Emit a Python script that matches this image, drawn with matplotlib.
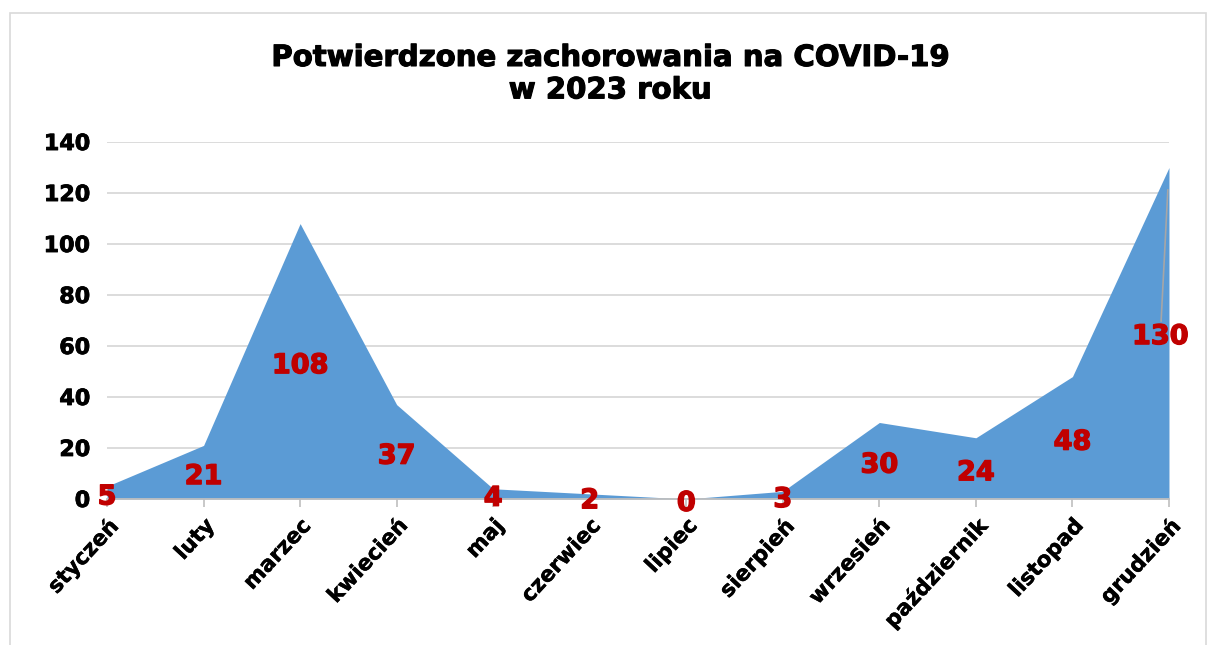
import numpy as np
import matplotlib.pyplot as plt
import matplotlib.patheffects as pe
from matplotlib.patches import Rectangle

months = ['styczeń', 'luty', 'marzec', 'kwiecień', 'maj', 'czerwiec',
          'lipiec', 'sierpień', 'wrzesień', 'październik', 'listopad', 'grudzień']
cases = [5, 21, 108, 37, 4, 2, 0, 3, 30, 24, 48, 130]
yticks = [0, 20, 40, 60, 80, 100, 120, 140]

plt.rcParams['font.family'] = 'DejaVu Sans'
plt.rcParams['font.weight'] = 'bold'

fig = plt.figure(figsize=(12.08, 6.45), dpi=100)
ax = fig.add_axes([0.0886, 0.2264, 0.9677 - 0.0886, 0.7798 - 0.2264])

x = np.arange(len(months))
ax.fill_between(x, cases, 0, color='#5B9BD5', linewidth=0, zorder=2)

ax.set_xlim(0, len(months) - 1)
ax.set_ylim(0, 140)
ax.set_yticks(yticks)
ax.set_xticks(x)
ax.set_xticklabels(months, rotation=47, ha='right', rotation_mode='anchor',
                   fontsize=15.5, fontweight='bold')
ax.tick_params(axis='y', length=0, pad=12, labelsize=16)
ax.tick_params(axis='x', length=6, color='#bfbfbf', width=1.2, pad=6)

for t in ax.get_yticklabels():
    t.set_fontweight('bold')
    t.set_path_effects([pe.withStroke(linewidth=0.6, foreground='black')])
for t in ax.get_xticklabels():
    t.set_path_effects([pe.withStroke(linewidth=0.3, foreground='black')])
ax.grid(axis='y', color='#d9d9d9', linewidth=1.3, zorder=0)
for s in ['left', 'right', 'top']:
    ax.spines[s].set_visible(False)
ax.spines['bottom'].set_color('#bfbfbf')
ax.spines['bottom'].set_linewidth(1.3)
ax.spines['bottom'].set_zorder(3)

# data labels (centred at half height like the original)
heavy_r = [pe.withStroke(linewidth=1.0, foreground='#C00000')]
for i, v in enumerate(cases):
    if i == len(cases) - 1:
        ax.annotate(str(v), xy=(i, v), xytext=(i - 0.09, v / 2 - 1.5),
                    ha='center', va='center', color='#C00000',
                    fontsize=19.5, fontweight='bold', zorder=5,
                    path_effects=heavy_r,
                    arrowprops=dict(arrowstyle='-', color='#a6a6a6', lw=1.2,
                                    shrinkA=0, shrinkB=16))
    else:
        ax.annotate(str(v), xy=(i, v / 2), xytext=(0, -3.5),
                    textcoords='offset points', ha='center', va='center',
                    color='#C00000', fontsize=19.5, fontweight='bold',
                    zorder=5, annotation_clip=False, path_effects=heavy_r)

fig.text(0.505, 0.885, 'Potwierdzone zachorowania na COVID-19\nw 2023 roku',
         ha='center', va='center', fontsize=21, fontweight='bold',
         linespacing=1.2,
         path_effects=[pe.withStroke(linewidth=0.8, foreground='black')])

fig.patches.append(Rectangle((0.008, -0.01), 0.99, 0.99, transform=fig.transFigure,
                             fill=False, edgecolor='#d9d9d9', linewidth=1.2))

fig.savefig('out.png', dpi=100)
